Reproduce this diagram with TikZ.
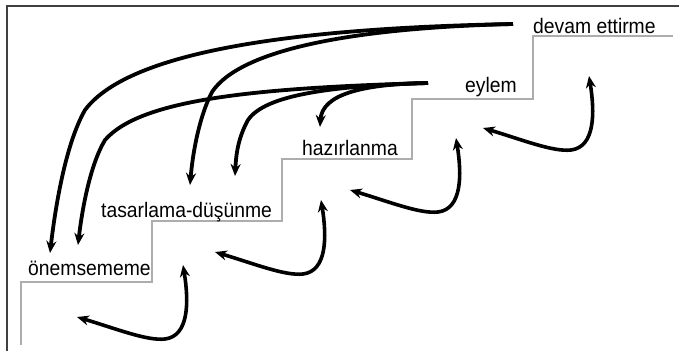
\documentclass[tikz,border=0pt]{standalone}
\usepackage{fontspec}
\setmainfont{Liberation Sans}[FakeStretch=0.92]
\usetikzlibrary{arrows.meta}
\begin{document}
\begin{tikzpicture}[x=1pt,y=-1pt,
  frame/.style={draw=black!75, line width=1.2pt},
  stair/.style={draw=black!32, line width=2.2pt},
  steplabel/.style={anchor=base west, inner sep=0pt, font=\fontsize{21}{25}\selectfont},
  flow/.style={line width=3.8pt, -{Stealth[length=12pt,width=10pt]}},
  hookline/.style={line width=3.6pt, {Stealth[length=12pt,width=10pt]}-{Stealth[length=12pt,width=10pt]}},
  stairhook/.pic={\draw[hookline] (0,0) .. controls (40,12) and (70,24) .. (88,22)
                   .. controls (112,19) and (112,-15) .. (106,-52);}]
\useasboundingbox (0,0) rectangle (679,351);
\fill[white] (0,0) rectangle (679,351);

% frame on the left and top edges
\draw[frame] (7,351) -- (7,6) -- (679,6);

% the staircase
\draw[stair] (21,345) -- (21,282) -- (152,282) -- (152,221) -- (282,221)
  -- (282,159) -- (412,159) -- (412,99) -- (533,99) -- (533,36) -- (673,36);

% stage names on the steps
\node[steplabel] (dev) at (533,33) {devam ettirme};
\node[steplabel] (eyl) at (465,92) {eylem};
\node[steplabel] (haz) at (302,155) {hazırlanma};
\node[steplabel] (tas) at (101,217) {tasarlama-düşünme};
\node[steplabel] (one) at (28,275) {önemsememe};

% relapse arrows falling back from the upper stages
\coordinate (fromdev) at (513,24);
\coordinate (fromeyl) at (428,83);
\coordinate (toone1) at (50,253);
\coordinate (toone2) at (78,245);
\coordinate (totas1) at (190,185);
\coordinate (totas2) at (235,176);
\coordinate (tohaz) at (320,127);

\draw[flow] (fromdev) .. controls (300,28) and (130,50) .. (85,110)
  .. controls (65,145) and (55,210) .. (toone1);
\draw[flow] (fromdev) .. controls (350,28) and (240,50) .. (212,92)
  .. controls (200,115) and (193,150) .. (totas1);
\draw[flow] (fromeyl) .. controls (250,88) and (140,100) .. (105,140)
  .. controls (90,165) and (82,210) .. (toone2);
\draw[flow] (fromeyl) .. controls (330,86) and (265,95) .. (248,120)
  .. controls (238,138) and (236,155) .. (totas2);
\draw[flow] (fromeyl) .. controls (360,84) and (322,95) .. (tohaz);

% back-and-forth arrows under each step
\pic (hookA) at (77,317) {stairhook};
\pic (hookB) at (215,252) {stairhook};
\pic (hookC) at (350,190) {stairhook};
\pic (hookD) at (483,128) {stairhook};
\end{tikzpicture}
\end{document}
